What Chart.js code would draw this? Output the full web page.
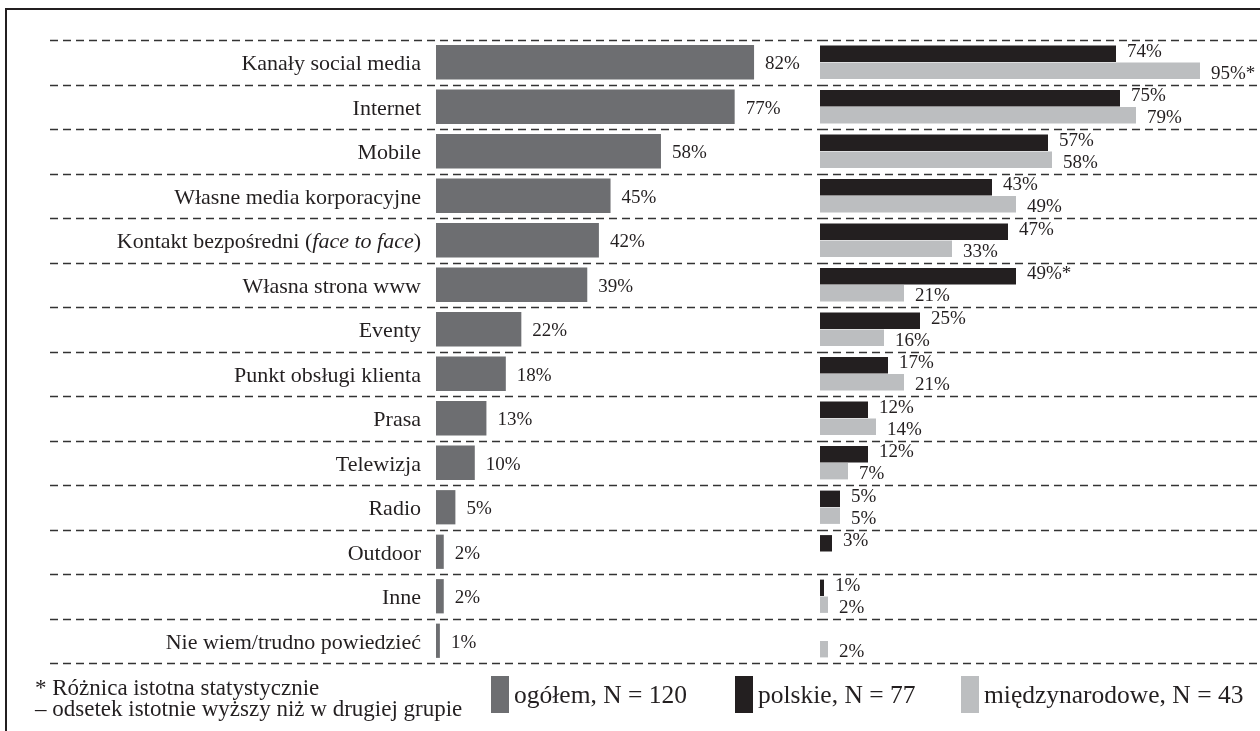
<!DOCTYPE html>
<html>
<head>
<meta charset="utf-8">
<script src="https://cdn.jsdelivr.net/npm/chart.js@4.4.1/dist/chart.umd.min.js"></script>
<style>
  body { margin: 0; background: #fff; }
  #wrap { position: relative; width: 1260px; height: 731px; overflow: hidden; font-family: "Liberation Serif", "Times New Roman", serif; color: #231f20; }
  #frame { position: absolute; left: 5px; top: 8px; right: -5px; bottom: -5px; border-top: 2px solid #231f20; border-left: 2px solid #231f20; }
  #leftChart { position: absolute; left: 0; top: 0; }
  #rightChart { position: absolute; left: 820px; top: 0; }
  .note { position: absolute; left: 35px; font-size: 23px; line-height: 20px; white-space: nowrap; }
  .leg { position: absolute; top: 676px; height: 37px; display: flex; align-items: center; font-size: 25.5px; white-space: nowrap; }
  .leg span.box { display: inline-block; width: 18px; height: 37px; margin-right: 5px; }
</style>
</head>
<body>
<div id="wrap">
  <div id="frame"></div>
  <canvas id="leftChart" width="820" height="731"></canvas>
  <canvas id="rightChart" width="440" height="731"></canvas>
  <div class="note" style="top:678px">* Różnica istotna statystycznie</div>
  <div class="note" style="top:699px">– odsetek istotnie wyższy niż w drugiej grupie</div>
  <div id="legend"></div>
</div>
<script>
// categories; text between underscores is set in italics
const categories = [
  'Kanały social media', 'Internet', 'Mobile', 'Własne media korporacyjne',
  'Kontakt bezpośredni (_face to face_)', 'Własna strona www', 'Eventy',
  'Punkt obsługi klienta', 'Prasa', 'Telewizja', 'Radio', 'Outdoor', 'Inne',
  'Nie wiem/trudno powiedzieć'
];
const ogolem = [82, 77, 58, 45, 42, 39, 22, 18, 13, 10, 5, 2, 2, 1];
const polskie = [74, 75, 57, 43, 47, 49, 25, 17, 12, 12, 5, 3, 1, null];
const miedzynarodowe = [95, 79, 58, 49, 33, 21, 16, 21, 14, 7, 5, null, 2, 2];
// statistically significant differences (marked with *)
const polskieStar = [false, false, false, false, false, true, false, false, false, false, false, false, false, false];
const miedzyStar = [true, false, false, false, false, false, false, false, false, false, false, false, false, false];

const seriesNames = ['ogółem, N = 120', 'polskie, N = 77', 'międzynarodowe, N = 43'];
const colors = ['#6d6e71', '#231f20', '#bcbec0'];
const FONT = '"Liberation Serif", "Times New Roman", serif';

// dashed separators between rows, drawn from the y scale
function dashPlugin(startX) {
  return {
    id: 'dashes',
    beforeDatasetsDraw(chart) {
      const y = chart.scales.y, ctx = chart.ctx;
      const step = y.getPixelForValue(1) - y.getPixelForValue(0);
      ctx.save();
      ctx.strokeStyle = '#333';
      ctx.lineWidth = 1.3;
      ctx.setLineDash([8, 5]);
      for (let i = 0; i <= categories.length; i++) {
        const py = Math.round(y.getPixelForValue(i) - step / 2) + 0.5;
        ctx.beginPath();
        ctx.moveTo(startX, py);
        ctx.lineTo(chart.width, py);
        ctx.stroke();
      }
      ctx.restore();
    }
  };
}

// category names with italic parts
const catLabels = {
  id: 'catLabels',
  afterDraw(chart) {
    const y = chart.scales.y, ctx = chart.ctx;
    const right = chart.chartArea.left - 15;
    ctx.save();
    ctx.fillStyle = '#231f20';
    ctx.textBaseline = 'middle';
    categories.forEach((c, i) => {
      const parts = c.split('_').map((t, k) => ({ t, font: (k % 2 ? 'italic ' : '') + '22px ' + FONT }));
      let w = 0;
      parts.forEach(p => { ctx.font = p.font; w += ctx.measureText(p.t).width; });
      let x = right - w;
      const py = y.getPixelForValue(i) + 2;
      parts.forEach(p => { ctx.font = p.font; ctx.fillText(p.t, x, py); x += ctx.measureText(p.t).width; });
    });
    ctx.restore();
  }
};

// value labels next to bars
const valueLabels = {
  id: 'valueLabels',
  afterDatasetsDraw(chart, args, opts) {
    const ctx = chart.ctx;
    ctx.save();
    ctx.fillStyle = '#231f20';
    ctx.font = '19px ' + FONT;
    ctx.textBaseline = 'middle';
    chart.data.datasets.forEach((ds, di) => {
      chart.getDatasetMeta(di).data.forEach((bar, i) => {
        const v = ds.data[i];
        if (v == null) return;
        const star = ds.stars && ds.stars[i] ? '*' : '';
        ctx.fillText(v + '%' + star, bar.x + 11, bar.y + opts.dy[di]);
      });
    });
    ctx.restore();
  }
};

const common = {
  indexAxis: 'y',
  responsive: false,
  animation: false,
  events: [],
  plugins: { legend: { display: false }, tooltip: { enabled: false } }
};

new Chart(document.getElementById('leftChart'), {
  type: 'bar',
  data: {
    labels: categories,
    datasets: [{ label: seriesNames[0], data: ogolem, backgroundColor: colors[0], categoryPercentage: 0.77, barPercentage: 1 }]
  },
  options: Object.assign({}, common, {
    layout: { padding: { top: 40, bottom: 68, left: 0, right: 0 } },
    plugins: Object.assign({}, common.plugins, { valueLabels: { dy: [2] } }),
    scales: {
      x: { display: false, min: 0, max: 99 },
      y: {
        display: true,
        grid: { display: false, drawTicks: false },
        border: { display: false },
        ticks: { display: false },
        afterFit(scale) { scale.width = 436; }
      }
    }
  }),
  plugins: [dashPlugin(50), catLabels, valueLabels]
});

new Chart(document.getElementById('rightChart'), {
  type: 'bar',
  data: {
    labels: categories,
    datasets: [
      { label: seriesNames[1], data: polskie, stars: polskieStar, backgroundColor: colors[1], categoryPercentage: 0.76, barPercentage: 0.97 },
      { label: seriesNames[2], data: miedzynarodowe, stars: miedzyStar, backgroundColor: colors[2], categoryPercentage: 0.76, barPercentage: 0.97 }
    ]
  },
  options: Object.assign({}, common, {
    layout: { padding: { top: 40, bottom: 68, left: 0, right: 0 } },
    plugins: Object.assign({}, common.plugins, { valueLabels: { dy: [-2, 3] } }),
    scales: {
      x: { display: false, min: 0, max: 110 },
      y: { display: false }
    }
  }),
  plugins: [dashPlugin(0), valueLabels]
});

// legend
const legendX = [491, 735, 961];
const legend = document.getElementById('legend');
seriesNames.forEach((name, i) => {
  const d = document.createElement('div');
  d.className = 'leg';
  d.style.left = legendX[i] + 'px';
  d.innerHTML = '<span class="box" style="background:' + colors[i] + '"></span>' + name;
  legend.appendChild(d);
});
</script>
</body>
</html>
